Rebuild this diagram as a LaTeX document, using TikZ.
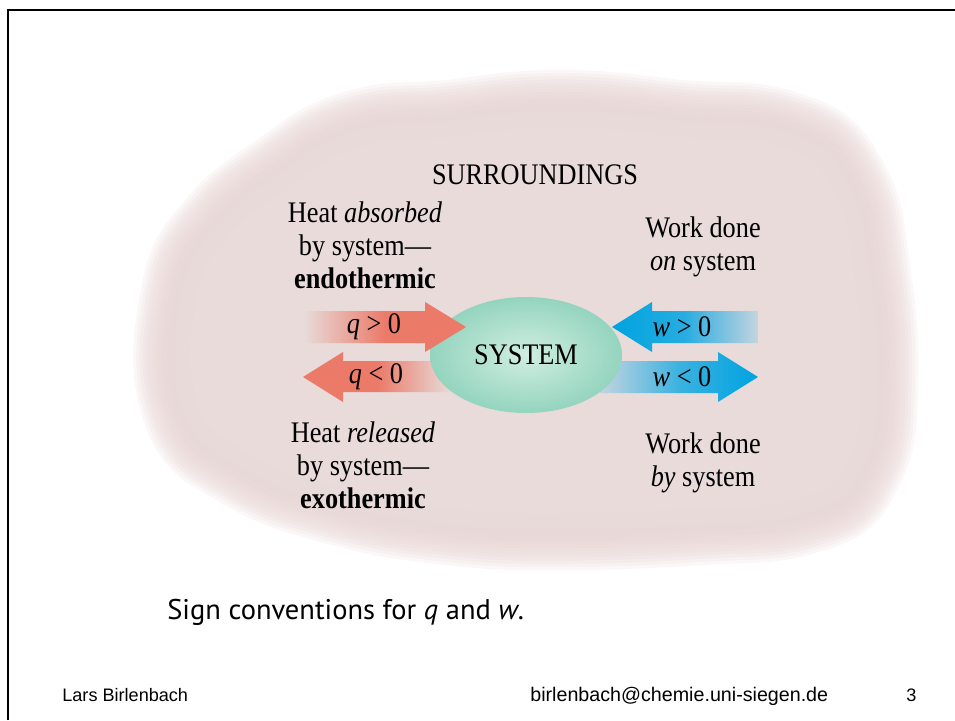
\documentclass[tikz,border=0pt]{standalone}
\usepackage{fontspec}
\setmainfont{Liberation Serif}[FakeStretch=0.88]
\newfontfamily\capfont{PT Sans}
\newfontfamily\footfont{Liberation Sans}
\usetikzlibrary{fadings}

\definecolor{cloudpink}{RGB}{236,224,222}
\definecolor{cloudrose}{RGB}{226,202,202}
\definecolor{heatred}{RGB}{236,122,104}
\definecolor{workblue}{RGB}{0,163,224}
\definecolor{workpale}{RGB}{196,212,224}
\definecolor{sysgreen}{RGB}{148,212,190}
\definecolor{syslight}{RGB}{208,238,226}

\tikzfading[name=fadein, left color=transparent!100, right color=transparent!0, middle color=transparent!0]
\tikzfading[name=fadeout, left color=transparent!0, right color=transparent!100, middle color=transparent!0]

\begin{document}
\begin{tikzpicture}[x=0.02cm, y=-0.02cm,
    txt/.style={align=center, inner sep=0pt, font=\fontsize{17}{18.7}\selectfont},
    foot/.style={inner sep=0pt, anchor=base west, font=\footfont\fontsize{10.3}{12}\selectfont}]
  \useasboundingbox (0,0) rectangle (955,720);
  \draw[line width=1.2pt] (8,720) -- (8,10) -- (955,10);

  % surroundings: stacked strokes give the cloud a soft rim
  \foreach \k in {19,...,0}{
    \pgfmathtruncatemacro{\mix}{\k*4}
    \begin{scope}[transparency group, opacity=0.16]
      \filldraw[cloudrose!\mix!cloudpink, line width=\k*3.6pt, line join=round]
        plot[smooth cycle, tension=0.8] coordinates {(200,300) (230,240) (290,190) (360,150)
          (450,140) (560,130) (680,140) (780,150) (830,190) (850,270) (858,380) (845,460)
          (800,495) (700,505) (560,510) (450,505) (340,485) (250,450) (200,400)};
    \end{scope}
  }

  % arrows running under the system
  \fill[heatred, path fading=fadeout] (303,377) -- (343,352) -- (343,361) -- (450,361)
    -- (450,392) -- (343,392) -- (343,402) -- cycle;
  \shade[left color=workpale, right color=workblue, middle color=workblue!70!workpale]
    (600,361) -- (718,361) -- (718,352) -- (758,377) -- (718,402) -- (718,393) -- (600,393) -- cycle;

  % system
  \shade[inner color=syslight, outer color=sysgreen] (526,355) ellipse (96 and 58);

  % arrows pointing at the system
  \fill[heatred, path fading=fadein] (305,311) -- (425,311) -- (425,302) -- (466,327)
    -- (425,352) -- (425,343) -- (305,343) -- cycle;
  \shade[left color=workblue, right color=workpale, middle color=workblue!80!workpale]
    (612,327) -- (652,302) -- (652,311) -- (758,311) -- (758,343) -- (652,343) -- (652,352) -- cycle;

  \node[txt] (surr) at (535,175) {SURROUNDINGS};
  \node[txt] (sys) at (526,355) {SYSTEM};
  \node[txt] (qin) at (374,327) {\textit{q} > 0};
  \node[txt] (qout) at (376,377) {\textit{q} < 0};
  \node[txt] (win) at (682,327) {\textit{w} > 0};
  \node[txt] (wout) at (682,377) {\textit{w} < 0};
  \node[txt] (endo) at (365,245) {Heat \textit{absorbed}\\by system---\\\textbf{endothermic}};
  \node[txt] (exo) at (363,465) {Heat \textit{released}\\by system---\\\textbf{exothermic}};
  \node[txt] (won) at (703,247) {Work done\\\textit{on} system};
  \node[txt] (wby) at (703,463) {Work done\\\textit{by} system};

  \node[inner sep=0pt, anchor=base west, font=\capfont\fontsize{16.2}{19}\selectfont] (cap) at (167,619)
    {Sign conventions for \textit{q} and \textit{w}.};

  \node[foot] (author) at (62,701) {Lars Birlenbach};
  \node[foot, font=\footfont\fontsize{11.2}{13}\selectfont] (mail) at (530,701) {birlenbach@chemie.uni-siegen.de};
  \node[foot] (page) at (906,701) {3};
\end{tikzpicture}
\end{document}
